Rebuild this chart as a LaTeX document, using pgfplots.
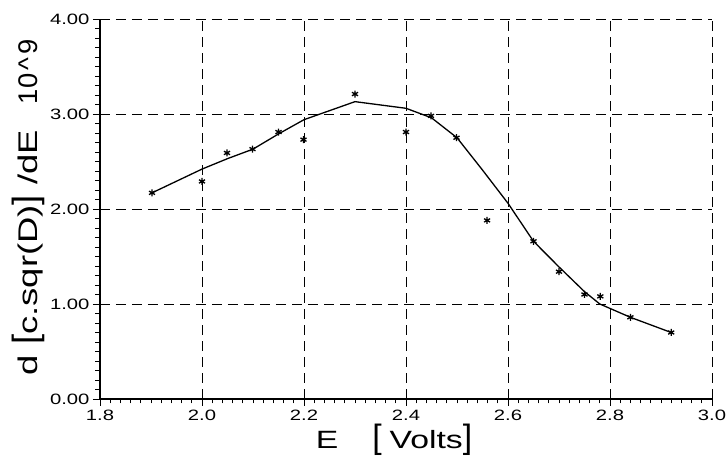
\documentclass[border=0pt]{standalone}
\usepackage{fontspec}
\setmainfont{Liberation Sans}[FakeStretch=1.35]
\usepackage{pgfplots}
\pgfplotsset{compat=1.18}

\begin{document}
\begin{tikzpicture}
\begin{axis}[
    at={(0,0)}, anchor=south west,
    scale only axis,
    width=612pt, height=380pt,
    xmin=1.8, xmax=3.0,
    ymin=0, ymax=4,
    xtick={1.8,2.0,2.2,2.4,2.6,2.8,3.0},
    ytick={0,1,2,3,4},
    minor x tick num=9,
    minor y tick num=9,
    tick align=outside,
    major tick length=7pt,
    minor tick length=4.5pt,
    every tick/.style={black, line width=0.9pt},
    axis x line*=bottom,
    axis y line*=left,
    axis line style={-, line width=1.2pt},
    grid=major,
    major grid style={black, line width=0.9pt, dash pattern=on 10pt off 6pt},
    x tick label style={/pgf/number format/.cd, fixed, fixed zerofill, precision=1},
    y tick label style={/pgf/number format/.cd, fixed, fixed zerofill, precision=2},
    /pgf/number format/assume math mode=true,
    tick label style={font=\fontsize{15}{17}\selectfont},
    xlabel={E\hspace{34pt}{\scalebox{1}[1.35]{[}}\hspace{8pt}Volts{\scalebox{1}[1.35]{]}}},
    xlabel style={at={(axis description cs:0.5,0)}, anchor=base, yshift=-50pt, xshift=-12pt,
        font=\fontsize{25}{28}\selectfont},
    ylabel={d {\scalebox{1}[1.3]{[}}c.sqr(D){\scalebox{1}[1.3]{]}} /dE\hspace{26pt}\scalebox{0.75}[1]{10\,\textasciicircum\,9}},
    ylabel style={at={(axis description cs:-0.102,0.505)}, anchor=base,
        font=\fontsize{27}{30}\selectfont},
]
\addplot[black, line width=1.3pt] coordinates {
    (1.902,2.17) (2.0,2.42) (2.05,2.53) (2.1,2.63) (2.15,2.79) (2.2,2.94)
    (2.3,3.13) (2.4,3.06) (2.45,2.96) (2.5,2.75) (2.55,2.41) (2.6,2.06)
    (2.65,1.66) (2.7,1.39) (2.75,1.13) (2.78,1.00) (2.84,0.86) (2.92,0.70)
};
\addplot[only marks, mark=asterisk, mark size=3.5pt, black, line width=1.3pt] coordinates {
    (1.902,2.17) (2.000,2.29) (2.049,2.59) (2.099,2.63) (2.150,2.81) (2.199,2.73)
    (2.300,3.21) (2.400,2.81) (2.449,2.98) (2.499,2.75) (2.559,1.88) (2.650,1.66)
    (2.700,1.34) (2.750,1.10) (2.781,1.08) (2.840,0.86) (2.920,0.70)
};
\end{axis}
\pgfresetboundingbox
\path (-100pt,-58pt) rectangle (626pt,399pt);
\end{tikzpicture}
\end{document}
